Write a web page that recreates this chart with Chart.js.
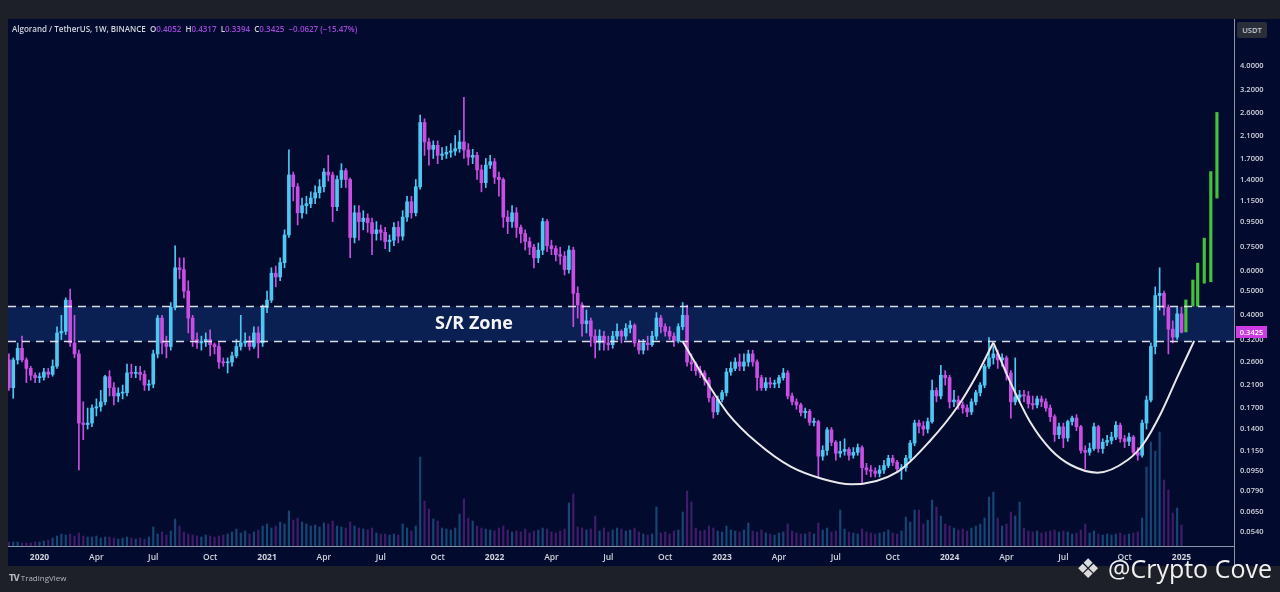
<!DOCTYPE html>
<html>
<head>
<meta charset="utf-8">
<title>ALGO/USDT 1W</title>
<script src="https://cdn.jsdelivr.net/npm/chart.js@4.4.1/dist/chart.umd.min.js"></script>
<style>
  html, body { margin: 0; padding: 0; background: #1e2029; }
  #wrap { position: relative; width: 1280px; height: 592px; overflow: hidden; }
  canvas { display: block; }
  .t { position: absolute; font-family: 'Open Sans', sans-serif; white-space: nowrap; }
  #legend span { color: #a048d8; }
</style>
</head>
<body>
<div id="wrap">
  <canvas id="chart" width="1280" height="592"></canvas>
  <div class="t" id="legend" style="left:12px;top:24px;font-size:8px;line-height:10px;font-weight:600;color:#d1d4dc"></div>
  <div class="t" style="left:1237px;top:22px;width:30px;height:16px;line-height:16px;background:#2a2e39;border-radius:2px;text-align:center;font-size:7.5px;font-weight:600;color:#c5c8d0">USDT</div>
  <div class="t" style="left:9px;top:573px;font-size:8px;line-height:10px;color:#b2b5be"><b style="font-family:'DejaVu Sans';letter-spacing:-1px">TV</b> TradingView</div>
  <div class="t" style="left:1076px;top:552px;font-size:27px;line-height:34px;color:#dcdcdc;font-family:'DejaVu Sans'">❖</div>
  <div class="t" style="left:1108px;top:551px;font-size:25px;line-height:34px;color:#f2f2f2">@Crypto Cove</div>
</div>
<script>
// Weekly candles, index 0 = week of 18 Nov 2019, index 268 = week of 6 Jan 2025
const firstOpen = 0.265;
const closes = [
  0.205,0.265,0.295,0.265,0.245,0.23,0.225,0.226,0.237,0.232,
  0.25,0.34,0.345,0.46,0.31,0.28,0.148,0.146,0.148,0.17,
  0.172,0.18,0.227,0.205,0.19,0.195,0.196,0.235,0.234,0.236,
  0.232,0.21,0.212,0.28,0.39,0.31,0.30,0.43,0.62,0.61,
  0.50,0.39,0.32,0.31,0.315,0.32,0.305,0.30,0.26,0.258,
  0.26,0.275,0.30,0.31,0.315,0.30,0.34,0.31,0.43,0.46,
  0.59,0.57,0.65,0.84,1.46,1.31,1.03,1.10,1.12,1.18,
  1.24,1.31,1.50,1.46,1.09,1.40,1.52,1.40,0.82,1.03,
  0.95,0.98,0.94,0.85,0.88,0.86,0.79,0.80,0.90,0.83,
  0.99,1.14,1.03,1.31,2.37,1.98,1.85,1.92,1.75,1.77,
  1.80,1.82,1.86,1.98,1.84,1.72,1.75,1.53,1.36,1.60,
  1.65,1.43,1.40,0.99,0.95,1.03,0.90,0.85,0.79,0.75,
  0.68,0.73,0.95,0.76,0.74,0.70,0.69,0.61,0.73,0.49,
  0.44,0.37,0.38,0.33,0.31,0.33,0.31,0.305,0.33,0.345,
  0.33,0.355,0.365,0.31,0.29,0.31,0.305,0.33,0.39,0.36,
  0.345,0.33,0.315,0.36,0.40,0.26,0.255,0.24,0.235,0.22,
  0.187,0.164,0.184,0.196,0.237,0.245,0.26,0.25,0.26,0.28,
  0.26,0.225,0.205,0.215,0.212,0.214,0.225,0.235,0.19,0.18,
  0.175,0.163,0.165,0.149,0.15,0.109,0.115,0.139,0.124,0.112,
  0.114,0.116,0.11,0.113,0.118,0.098,0.096,0.095,0.093,0.096,
  0.10,0.107,0.103,0.097,0.098,0.107,0.123,0.148,0.144,0.14,
  0.15,0.20,0.19,0.23,0.225,0.18,0.183,0.175,0.17,0.164,
  0.18,0.196,0.21,0.25,0.27,0.28,0.265,0.27,0.235,0.18,
  0.188,0.192,0.19,0.177,0.175,0.185,0.18,0.17,0.157,0.133,
  0.143,0.129,0.15,0.155,0.143,0.115,0.113,0.117,0.143,0.117,
  0.124,0.126,0.13,0.145,0.128,0.125,0.13,0.113,0.11,0.148,
  0.183,0.30,0.48,0.49,0.43,0.352,0.327,0.4052,0.3425
];
const highs = [
  0.28,0.27,0.31,0.33,0.27,0.25,0.235,0.235,0.245,0.245,
  0.265,0.36,0.40,0.47,0.51,0.40,0.29,0.18,0.17,0.175,
  0.185,0.20,0.23,0.24,0.215,0.205,0.21,0.255,0.255,0.25,
  0.25,0.24,0.22,0.29,0.40,0.40,0.33,0.45,0.76,0.68,
  0.68,0.55,0.40,0.34,0.33,0.34,0.35,0.31,0.31,0.27,
  0.27,0.285,0.32,0.40,0.34,0.33,0.36,0.36,0.44,0.50,
  0.62,0.63,0.68,0.88,1.84,1.50,1.35,1.18,1.20,1.25,
  1.32,1.40,1.55,1.75,1.50,1.45,1.62,1.55,1.42,1.10,
  1.10,1.05,1.02,0.98,0.95,0.92,0.90,0.84,0.94,0.95,
  1.05,1.20,1.20,1.40,2.54,2.45,2.05,2.00,2.00,1.88,
  1.90,1.95,2.10,2.20,2.99,1.95,1.85,1.80,1.60,1.70,
  1.75,1.70,1.50,1.42,1.05,1.10,1.08,0.92,0.88,0.82,
  0.77,0.78,0.98,0.97,0.80,0.76,0.75,0.72,0.76,0.75,
  0.52,0.45,0.42,0.39,0.35,0.35,0.345,0.33,0.345,0.37,
  0.35,0.37,0.38,0.37,0.32,0.32,0.33,0.345,0.41,0.40,
  0.37,0.36,0.34,0.37,0.45,0.44,0.28,0.26,0.25,0.24,
  0.225,0.19,0.19,0.20,0.245,0.26,0.27,0.28,0.28,0.29,
  0.29,0.265,0.23,0.225,0.225,0.22,0.23,0.245,0.24,0.195,
  0.185,0.178,0.17,0.168,0.155,0.152,0.12,0.142,0.142,0.126,
  0.125,0.128,0.118,0.118,0.122,0.12,0.102,0.10,0.098,0.10,
  0.105,0.11,0.11,0.105,0.101,0.11,0.126,0.152,0.152,0.15,
  0.155,0.22,0.205,0.252,0.24,0.23,0.20,0.19,0.18,0.175,
  0.185,0.20,0.215,0.255,0.326,0.30,0.29,0.28,0.275,0.24,
  0.27,0.20,0.20,0.198,0.19,0.19,0.19,0.185,0.175,0.16,
  0.148,0.148,0.152,0.158,0.16,0.145,0.12,0.123,0.148,0.145,
  0.128,0.132,0.136,0.15,0.148,0.132,0.135,0.132,0.118,0.152,
  0.19,0.31,0.52,0.62,0.50,0.44,0.38,0.43,0.4317
];
const lows = [
  0.20,0.186,0.255,0.26,0.215,0.22,0.215,0.215,0.22,0.225,
  0.228,0.245,0.32,0.335,0.30,0.27,0.096,0.127,0.14,0.143,
  0.158,0.165,0.175,0.19,0.175,0.18,0.185,0.19,0.225,0.225,
  0.22,0.20,0.20,0.205,0.27,0.28,0.27,0.29,0.42,0.56,
  0.47,0.34,0.30,0.295,0.29,0.30,0.275,0.28,0.245,0.25,
  0.235,0.25,0.27,0.29,0.30,0.29,0.295,0.27,0.30,0.41,
  0.45,0.52,0.55,0.62,0.82,1.15,0.92,0.98,1.02,1.08,
  1.12,1.18,1.25,1.38,0.95,1.05,1.30,1.30,0.68,0.78,
  0.80,0.88,0.86,0.70,0.80,0.80,0.74,0.72,0.76,0.78,
  0.80,0.95,0.98,1.00,1.28,1.75,1.60,1.70,1.62,1.68,
  1.70,1.72,1.75,1.80,1.70,1.60,1.62,1.40,1.25,1.30,
  1.55,1.35,1.20,0.90,0.85,0.90,0.82,0.78,0.73,0.70,
  0.62,0.65,0.70,0.72,0.70,0.66,0.64,0.58,0.59,0.36,
  0.39,0.33,0.34,0.30,0.27,0.29,0.29,0.29,0.295,0.32,
  0.31,0.32,0.34,0.30,0.28,0.28,0.29,0.30,0.32,0.34,
  0.33,0.32,0.30,0.31,0.35,0.25,0.24,0.23,0.225,0.21,
  0.18,0.155,0.16,0.18,0.19,0.23,0.24,0.24,0.24,0.25,
  0.25,0.20,0.20,0.20,0.205,0.205,0.205,0.22,0.185,0.175,
  0.168,0.158,0.155,0.145,0.144,0.089,0.105,0.11,0.12,0.105,
  0.108,0.11,0.105,0.107,0.11,0.085,0.092,0.09,0.09,0.09,
  0.093,0.098,0.10,0.094,0.088,0.095,0.105,0.12,0.135,0.132,
  0.135,0.148,0.18,0.185,0.21,0.17,0.172,0.168,0.162,0.157,
  0.16,0.175,0.19,0.205,0.245,0.255,0.245,0.25,0.22,0.155,
  0.175,0.18,0.18,0.17,0.168,0.17,0.172,0.165,0.15,0.125,
  0.128,0.118,0.125,0.145,0.138,0.112,0.097,0.11,0.115,0.113,
  0.112,0.12,0.122,0.127,0.124,0.118,0.12,0.11,0.105,0.108,
  0.14,0.18,0.28,0.42,0.40,0.28,0.31,0.32,0.3394
];
// volume, relative units
const volumes = [
  4,4,4,3,3,3,4,4,5,6,
  8,10,12,11,12,10,13,10,9,9,
  10,8,9,9,8,7,8,9,8,7,
  8,7,9,19,12,14,11,15,27,20,
  14,12,11,10,9,11,10,9,10,11,
  12,14,17,13,15,12,14,16,20,22,
  18,20,24,22,35,26,28,24,22,20,
  21,19,23,22,25,20,19,18,24,20,
  18,17,16,18,13,12,12,11,12,11,
  22,18,15,20,89,45,37,27,25,18,
  17,16,18,32,47,28,25,20,18,17,
  16,15,18,20,16,14,15,14,17,13,
  15,16,18,17,14,13,15,17,43,52,
  19,18,16,17,30,15,18,14,16,18,
  17,15,16,18,14,12,11,12,39,13,
  14,12,15,16,34,55,44,18,15,16,
  20,18,15,14,20,16,15,14,16,23,
  15,14,16,13,12,11,13,14,22,15,
  13,12,12,14,12,23,16,18,14,15,
  36,17,14,13,12,17,14,13,12,13,
  14,16,13,12,15,29,24,36,36,22,
  26,46,39,30,22,20,18,16,17,15,
  18,20,22,28,49,54,28,20,22,34,
  30,44,18,15,14,15,13,14,15,16,
  14,15,14,12,13,16,22,13,15,12,
  11,12,11,12,13,11,12,13,14,28,
  79,104,95,114,66,56,33,38,21
];

// projected path (green bars)
const projX  = [269.0, 270.6, 271.7, 273.2, 274.7, 276.1];
const projLo = [0.343, 0.435, 0.435, 0.538, 0.545, 1.18];
const projHi = [0.461, 0.554, 0.647, 0.815, 1.507, 2.60];

// S/R zone
const srTop = 0.434;
const srBottom = 0.314;
const srLabelX = 106.3;

// cup and handle curves
const cupX = [154, 159.7, 164.3, 171.1, 178.7, 186, 192.5, 203.1, 210.7, 216.8, 221.4, 225];
const cupY = [0.314, 0.2135, 0.162, 0.123, 0.0989, 0.0883, 0.0841, 0.0944, 0.1266, 0.172, 0.234, 0.311];
const handleX = [225, 229.0, 233.6, 238.2, 242.7, 248.8, 255.7, 259.4, 263.3, 267.1, 270.9];
const handleY = [0.311, 0.2135, 0.1476, 0.1154, 0.1005, 0.0936, 0.1052, 0.1228, 0.162, 0.227, 0.316];

// axes
const tickPos = [7, 20, 33, 46, 59, 72, 85, 98, 111, 124, 137, 150, 163, 176, 189, 202, 215, 228, 241, 255, 268];
const tickLabels = ['2020','Apr','Jul','Oct','2021','Apr','Jul','Oct','2022','Apr','Jul','Oct',
                    '2023','Apr','Jul','Oct','2024','Apr','Jul','Oct','2025'];
const yTicks = [4, 3.2, 2.6, 2.1, 1.7, 1.4, 1.15, 0.95, 0.75, 0.6, 0.5, 0.4, 0.32, 0.26, 0.21,
                0.17, 0.14, 0.115, 0.095, 0.079, 0.065, 0.054];

const UP = '#4ec7f3';
const DOWN = '#c94fe3';
const X_MIN = -0.2, X_MAX = 280;

const opens = closes.map((c, i) => i ? closes[i - 1] : firstOpen);
const up = closes.map((c, i) => c >= opens[i]);
const candleColors = up.map(u => u ? UP : DOWN);
const volColors = up.map(u => u ? 'rgba(52,150,215,0.42)' : 'rgba(150,55,190,0.42)');

// header text
const n = closes.length - 1;
const chg = closes[n] - opens[n];
document.getElementById('legend').innerHTML =
  'Algorand / TetherUS, 1W, BINANCE&nbsp;&nbsp;O<span>' + opens[n].toFixed(4) +
  '</span>&nbsp; H<span>' + highs[n].toFixed(4) +
  '</span>&nbsp; L<span>' + lows[n].toFixed(4) +
  '</span>&nbsp; C<span>' + closes[n].toFixed(4) + '&nbsp; ' +
  chg.toFixed(4).replace('-', '\u2212') + ' (' + (chg / opens[n] * 100).toFixed(2).replace('-', '\u2212') + '%)</span>';

const decor = {
  id: 'decor',
  beforeDraw(chart) {
    const { ctx, chartArea: a } = chart;
    ctx.save();
    ctx.fillStyle = '#1e2029';
    ctx.fillRect(0, 0, chart.width, chart.height);
    ctx.fillStyle = '#020b2d';
    ctx.fillRect(a.left, a.top - 1, chart.width - a.left, a.bottom - a.top + 21);
    ctx.restore();
  },
  afterDatasetsDraw(chart) {
    const { ctx, scales: { x, y } } = chart;
    const px = x.getPixelForValue(srLabelX);
    const py = (y.getPixelForValue(srTop) + y.getPixelForValue(srBottom)) / 2;
    ctx.save();
    ctx.font = "bold 18px 'Open Sans', sans-serif";
    ctx.fillStyle = '#f4f4f4';
    ctx.textAlign = 'center';
    ctx.textBaseline = 'middle';
    ctx.fillText('S/R Zone', px, py);
    ctx.restore();
  },
  afterDraw(chart) {
    const { ctx, chartArea: a, scales: { y } } = chart;
    ctx.save();
    // axis separator continues through the time row
    ctx.strokeStyle = '#8c95a8';
    ctx.lineWidth = 1;
    ctx.beginPath();
    ctx.moveTo(a.right + 0.5, a.top - 1);
    ctx.lineTo(a.right + 0.5, a.bottom + 20);
    ctx.stroke();
    // last price tag
    const last = closes[closes.length - 1];
    const py = Math.round(y.getPixelForValue(last));
    ctx.fillStyle = '#cc3be3';
    ctx.fillRect(a.right + 2, py - 6, 31, 12);
    ctx.fillStyle = '#ffffff';
    ctx.font = "600 7.5px 'Open Sans', sans-serif";
    ctx.textAlign = 'center';
    ctx.textBaseline = 'middle';
    ctx.fillText(last.toFixed(4), a.right + 17.5, py + 0.5);
    ctx.restore();
  }
};

const hLine = (v) => [{ x: X_MIN, y: v }, { x: X_MAX, y: v }];
const pts = (xs, ys) => xs.map((v, i) => ({ x: v, y: ys[i] }));

Chart.defaults.font.family = "'Open Sans', sans-serif";

new Chart(document.getElementById('chart').getContext('2d'), {
  type: 'bar',
  data: {
    datasets: [
      { type: 'line', data: hLine(srTop), borderWidth: 0, pointRadius: 0, fill: '+1',
        backgroundColor: '#0a1f52', order: 20, xAxisID: 'x', yAxisID: 'y' },
      { type: 'line', data: hLine(srBottom), borderWidth: 0, pointRadius: 0, fill: false,
        order: 21, xAxisID: 'x', yAxisID: 'y' },
      { data: volumes.map((v, i) => ({ x: i, y: v })), backgroundColor: volColors,
        barThickness: 1.5, grouped: false, order: 15, xAxisID: 'x', yAxisID: 'yv' },
      { data: highs.map((h, i) => ({ x: i, y: [lows[i], h] })), backgroundColor: candleColors,
        barThickness: 1, grouped: false, order: 6, xAxisID: 'x', yAxisID: 'y' },
      { data: closes.map((c, i) => ({ x: i, y: [Math.min(opens[i], c), Math.max(opens[i], c)] })),
        backgroundColor: candleColors, barThickness: 3, minBarLength: 1, grouped: false,
        order: 5, xAxisID: 'x', yAxisID: 'y' },
      { data: projX.map((v, i) => ({ x: v, y: [projLo[i], projHi[i]] })), backgroundColor: '#45c23c',
        barThickness: 2.5, grouped: false, order: 4, xAxisID: 'x', yAxisID: 'y' },
      { type: 'line', data: hLine(srTop), borderColor: 'rgba(236,236,240,0.92)', borderWidth: 1.5,
        borderDash: [8, 6], pointRadius: 0, fill: false, order: 3, xAxisID: 'x', yAxisID: 'y' },
      { type: 'line', data: hLine(srBottom), borderColor: 'rgba(236,236,240,0.92)', borderWidth: 1.5,
        borderDash: [8, 6], pointRadius: 0, fill: false, order: 3, xAxisID: 'x', yAxisID: 'y' },
      { type: 'line', data: pts(cupX, cupY), borderColor: '#e9e9ec', borderWidth: 2,
        cubicInterpolationMode: 'monotone', pointRadius: 0, fill: false, order: 2, xAxisID: 'x', yAxisID: 'y' },
      { type: 'line', data: pts(handleX, handleY), borderColor: '#e9e9ec', borderWidth: 2,
        cubicInterpolationMode: 'monotone', pointRadius: 0, fill: false, order: 2, xAxisID: 'x', yAxisID: 'y' }
    ]
  },
  options: {
    responsive: false,
    animation: false,
    devicePixelRatio: 1,
    layout: { padding: { left: 8, top: 20, right: 0, bottom: 26 } },
    plugins: { legend: { display: false }, tooltip: { enabled: false } },
    scales: {
      x: {
        type: 'linear', min: X_MIN, max: X_MAX, offset: false,
        grid: { display: false, drawTicks: false, offset: false },
        border: { display: true, color: '#8c95a8', width: 1 },
        afterBuildTicks: s => { s.ticks = tickPos.map(v => ({ value: v })); },
        afterFit: s => { s.height = 20; },
        ticks: {
          autoSkip: false, maxRotation: 0, padding: 6, color: '#d1d4dc',
          font: ctx => {
            const lbl = tickLabels[tickPos.indexOf(ctx.tick ? ctx.tick.value : -1)] || '';
            return { size: 8.5, weight: /^\d{4}$/.test(lbl) ? 'bold' : '600' };
          },
          callback: v => tickLabels[tickPos.indexOf(v)] || ''
        }
      },
      y: {
        type: 'logarithmic', position: 'right', min: 0.0476, max: 6.1,
        grid: { display: false, drawTicks: false },
        border: { display: true, color: '#8c95a8', width: 1 },
        afterBuildTicks: s => { s.ticks = yTicks.map(v => ({ value: v })); },
        afterFit: s => { s.width = 46; },
        ticks: {
          autoSkip: false, padding: 6, color: '#d1d4dc',
          font: { size: 7.5, weight: '600' },
          callback: v => Number(v).toFixed(4)
        }
      },
      yv: { type: 'linear', display: false, min: 0, max: 526 }
    }
  },
  plugins: [decor]
});
</script>
</body>
</html>
